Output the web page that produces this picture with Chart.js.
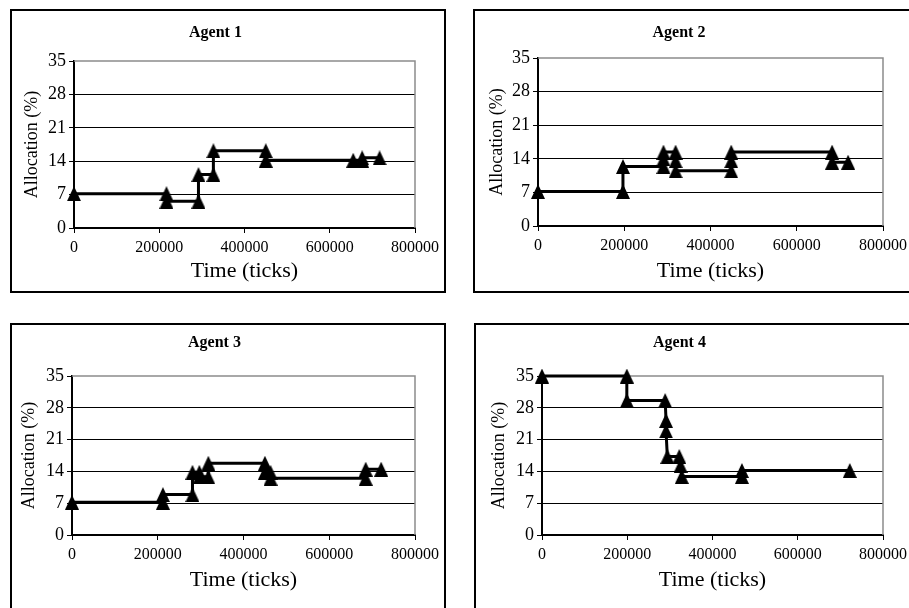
<!DOCTYPE html>
<html>
<head>
<meta charset="utf-8">
<title>Agent allocation</title>
<script src="https://cdn.jsdelivr.net/npm/chart.js@4.4.0/dist/chart.umd.min.js"></script>
<style>
    body { margin: 0; background: #fff; width: 909px; height: 608px; overflow: hidden; position: relative; }
    .panel { position: absolute; border: 2px solid #000; box-sizing: border-box; background: #fff; }
    .panel canvas { position: absolute; left: 0; top: 0; }
</style>
</head>
<body>
<div class="panel" style="left:10px;top:9px;width:436px;height:284px"><canvas id="agent1" width="432" height="280"></canvas></div>
<div class="panel" style="left:473px;top:9px;width:450px;height:284px"><canvas id="agent2" width="446" height="280"></canvas></div>
<div class="panel" style="left:10px;top:323px;width:436px;height:300px"><canvas id="agent3" width="432" height="285"></canvas></div>
<div class="panel" style="left:474px;top:323px;width:450px;height:300px"><canvas id="agent4" width="446" height="285"></canvas></div>
<script>
    // tick labels
    var timeTicks = [0, 200000, 400000, 600000, 800000];
    var allocTicks = [0, 7, 14, 21, 28, 35];

    // Agent 1
    var agent1Time = [0, 217000, 217000, 292000, 292000, 327000, 327000, 450000, 450000, 655000, 676000, 676000, 717000];
    var agent1Alloc = [7.2, 7.2, 5.6, 5.6, 11.2, 11.2, 16.2, 16.2, 14.2, 14.2, 14.2, 14.7, 14.7];

    // Agent 2
    var agent2Time = [0, 197000, 197000, 291000, 291000, 291000, 319000, 319000, 319000, 448000, 448000, 448000, 682000, 682000, 719000];
    var agent2Alloc = [7.2, 7.2, 12.4, 12.4, 14.0, 15.4, 15.4, 13.6, 11.5, 11.5, 13.6, 15.4, 15.4, 13.3, 13.3];

    // Agent 3
    var agent3Time = [0, 212000, 212000, 281000, 281000, 297000, 297000, 318000, 318000, 450000, 450000, 463000, 463000, 685000, 685000, 721000];
    var agent3Alloc = [7.2, 7.2, 8.9, 8.9, 13.8, 13.8, 12.8, 12.8, 15.8, 15.8, 13.8, 13.8, 12.5, 12.5, 14.5, 14.5];

    // Agent 4
    var agent4Time = [0, 199000, 199000, 289000, 291000, 291000, 294000, 322000, 325000, 328000, 469000, 469000, 722000];
    var agent4Alloc = [35, 35, 29.6, 29.6, 25.2, 22.9, 17.3, 17.3, 15.3, 12.9, 12.9, 14.2, 14.2];

    var serif = "'Liberation Serif', 'Times New Roman', serif";

    // Excel style triangle marker
    var marker = document.createElement("canvas");
    marker.width = 14;
    marker.height = 15;
    (function () {
        var g = marker.getContext("2d");
        g.fillStyle = "#000";
        g.beginPath();
        g.moveTo(7, 0);
        g.lineTo(14, 15);
        g.lineTo(0, 15);
        g.closePath();
        g.fill();
    })();

    // grey frame on top and right of the plot area
    var plotFrame = {
        id: "plotFrame",
        beforeDatasetsDraw: function (chart) {
            var a = chart.chartArea, ctx = chart.ctx;
            ctx.save();
            ctx.strokeStyle = "#8c8c8c";
            ctx.lineWidth = 1.5;
            ctx.beginPath();
            ctx.moveTo(a.left, a.top);
            ctx.lineTo(a.right, a.top);
            ctx.lineTo(a.right, a.bottom);
            ctx.stroke();
            ctx.restore();
        },
    };

    function makeChart(id, title, times, allocs, g) {
        var canvas = document.getElementById(id);
        var W = canvas.width, H = canvas.height;
        var points = times.map(function (t, i) { return { x: t, y: allocs[i] }; });

        return new Chart(canvas.getContext("2d"), {
            type: "line",
            data: {
                datasets: [{
                    data: points,
                    borderColor: "#000",
                    borderWidth: 3,
                    tension: 0,
                    fill: false,
                    clip: false,
                    pointStyle: marker,
                    pointRadius: 8,
                    pointHoverRadius: 8,
                    pointBackgroundColor: "#000",
                    pointBorderColor: "#000",
                }],
            },
            options: {
                responsive: false,
                animation: false,
                events: [],
                layout: { padding: { left: 0, top: 0, right: W - g.right, bottom: 0 } },
                plugins: {
                    legend: { display: false },
                    tooltip: { enabled: false },
                    title: {
                        display: true,
                        text: title,
                        color: "#000",
                        font: { family: serif, size: 16, weight: "bold" },
                        padding: { top: g.titleY - 9.6, bottom: g.top - g.titleY - 9.6 },
                    },
                },
                scales: {
                    x: {
                        type: "linear",
                        min: timeTicks[0],
                        max: timeTicks[timeTicks.length - 1],
                        afterFit: function (s) { s.height = H - g.bottom; },
                        afterBuildTicks: function (s) { s.ticks = timeTicks.map(function (v) { return { value: v }; }); },
                        border: { color: "#000", width: 2 },
                        grid: { drawOnChartArea: false, drawTicks: true, tickLength: 5, color: "#000" },
                        ticks: {
                            color: "#000",
                            font: { family: serif, size: 16 },
                            padding: 5,
                            maxRotation: 0,
                            autoSkip: false,
                            callback: function (v) { return String(v); },
                        },
                        title: {
                            display: true,
                            text: "Time (ticks)",
                            color: "#000",
                            font: { family: serif, size: 22 },
                            padding: { top: 0, bottom: H - g.bottom - g.xTitleOff - 13.2 },
                        },
                    },
                    y: {
                        min: allocTicks[0],
                        max: allocTicks[allocTicks.length - 1],
                        afterFit: function (s) { s.width = g.left; },
                        afterBuildTicks: function (s) { s.ticks = allocTicks.map(function (v) { return { value: v }; }); },
                        border: { color: "#000", width: 2 },
                        grid: {
                            color: function (c) { return c.tick && c.tick.value === 35 ? "rgba(0,0,0,0)" : "#000"; },
                            tickColor: "#000",
                            lineWidth: 1,
                            tickLength: 5,
                        },
                        ticks: {
                            color: "#000",
                            font: { family: serif, size: 18 },
                            padding: 3,
                        },
                        title: {
                            display: true,
                            text: "Allocation (%)",
                            color: "#000",
                            font: { family: serif, size: 18 },
                            padding: { top: g.yTitleX - 10.8, bottom: 0 },
                        },
                    },
                },
            },
            plugins: [plotFrame],
        });
    }

    makeChart("agent1", "Agent 1", agent1Time, agent1Alloc,
        { left: 62, top: 50, right: 407, bottom: 217, titleY: 22, xTitleOff: 43, yTitleX: 20.5 });
    makeChart("agent2", "Agent 2", agent2Time, agent2Alloc,
        { left: 63, top: 47, right: 408, bottom: 215, titleY: 22, xTitleOff: 45, yTitleX: 22.5 });
    makeChart("agent3", "Agent 3", agent3Time, agent3Alloc,
        { left: 60, top: 51, right: 405, bottom: 210, titleY: 18, xTitleOff: 45, yTitleX: 17 });
    makeChart("agent4", "Agent 4", agent4Time, agent4Alloc,
        { left: 66, top: 51, right: 407, bottom: 210, titleY: 18, xTitleOff: 45, yTitleX: 23 });
</script>
</body>
</html>
